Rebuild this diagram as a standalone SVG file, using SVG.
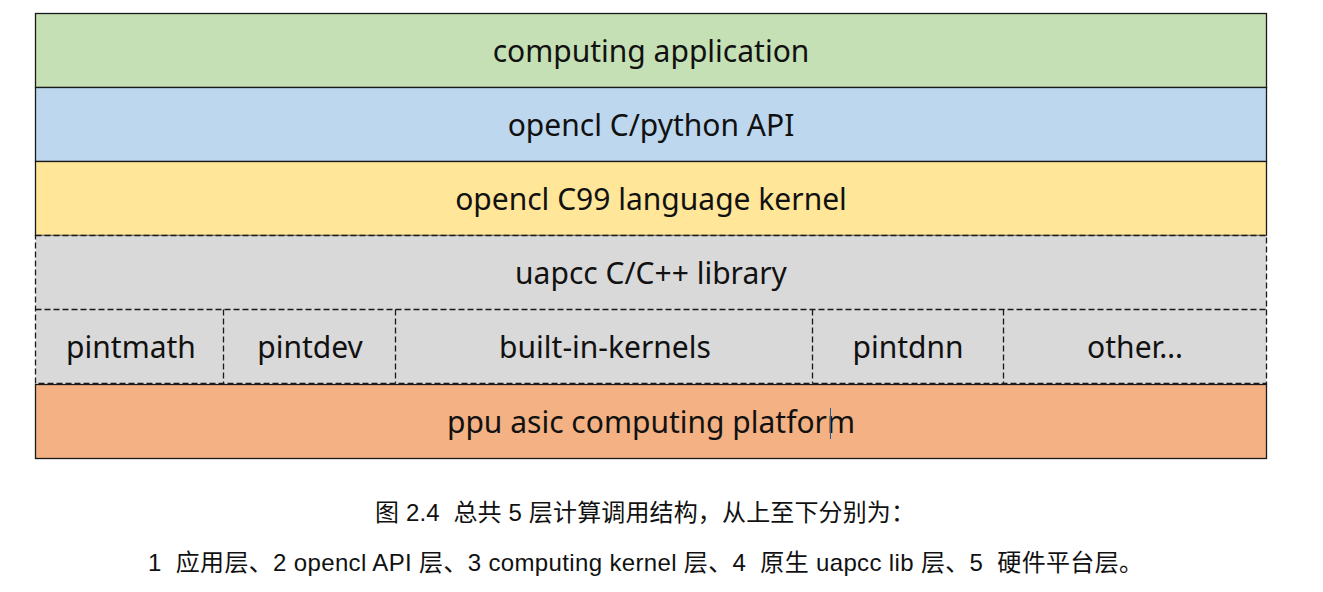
<svg xmlns="http://www.w3.org/2000/svg" width="1323" height="592" viewBox="0 0 1323 592">
<style>
.box{stroke:#1a1a1a;stroke-width:1.3}
.dash{fill:none;stroke:#1a1a1a;stroke-width:1.3;stroke-dasharray:6 3}
.lbl{font-family:"Noto Sans","Noto Sans CJK SC",sans-serif;font-size:30px;fill:#111;text-anchor:middle}
.cap{font-family:"Liberation Sans","Noto Sans CJK SC",sans-serif;font-size:24px;fill:#111;white-space:pre}
</style>
<rect width="1323" height="592" fill="#fff"/>
<g id="app">
<rect class="box" x="35.5" y="13.5" width="1231" height="74" fill="#C5E0B4"/>
<text class="lbl" x="651" y="62">computing application</text>
</g>
<g id="api">
<rect class="box" x="35.5" y="87.5" width="1231" height="74" fill="#BDD7EE"/>
<text class="lbl" x="651" y="136">opencl C/python API</text>
</g>
<g id="kernel">
<rect class="box" x="35.5" y="161.5" width="1231" height="74" fill="#FFE699"/>
<text class="lbl" x="651" y="210">opencl C99 language kernel</text>
</g>
<g id="uapcc">
<rect x="35.5" y="235.5" width="1231" height="148" fill="#D9D9D9"/>
<rect class="dash" x="35.5" y="235.5" width="1231" height="148"/>
<text class="lbl" x="651" y="284">uapcc C/C++ library</text>
</g>
<g id="libs">
<line class="dash" x1="35.5" y1="309.5" x2="1266.5" y2="309.5"/>
<line class="dash" x1="223.5" y1="309.5" x2="223.5" y2="383.5"/>
<line class="dash" x1="395.5" y1="309.5" x2="395.5" y2="383.5"/>
<line class="dash" x1="812.5" y1="309.5" x2="812.5" y2="383.5"/>
<line class="dash" x1="1003.5" y1="309.5" x2="1003.5" y2="383.5"/>
</g>
<g id="pintmath"><text class="lbl" x="131" y="358">pintmath</text></g>
<g id="pintdev"><text class="lbl" x="310" y="358">pintdev</text></g>
<g id="builtin"><text class="lbl" x="605" y="358">built-in-kernels</text></g>
<g id="pintdnn"><text class="lbl" x="908" y="358">pintdnn</text></g>
<g id="other"><text class="lbl" x="1135" y="358">other…</text></g>
<g id="platform">
<rect class="box" x="35.5" y="384.5" width="1231" height="74" fill="#F4B183"/>
<text class="lbl" x="651" y="433">ppu asic computing platform</text>
<line x1="830.5" y1="408" x2="830.5" y2="439" stroke="#1f5fa0" stroke-width="1"/>
</g>
<g id="connectors"></g>
<g id="caption">
<text class="cap" x="375" y="521" textLength="540">图 2.4  总共 5 层计算调用结构，从上至下分别为：</text>
<text class="cap" x="148" y="571" textLength="995">1  应用层、2 opencl API 层、3 computing kernel 层、4  原生 uapcc lib 层、5  硬件平台层。</text>
</g>
</svg>
